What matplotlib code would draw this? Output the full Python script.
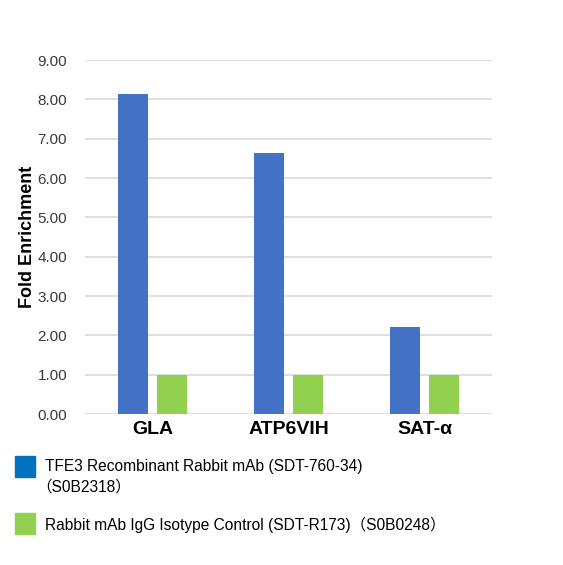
import matplotlib
matplotlib.use('Agg')
import numpy as np
import matplotlib.pyplot as plt
from matplotlib.patches import Rectangle

plt.rcParams['font.family'] = ['Liberation Sans', 'Noto Sans CJK SC', 'DejaVu Sans']

categories = ['GLA', 'ATP6VIH', 'SAT-α']
tfe3_vals = [8.13, 6.63, 2.20]
igg_vals = [1.00, 1.00, 1.00]
yticks = [0, 1, 2, 3, 4, 5, 6, 7, 8, 9]
legend_labels = ['TFE3 Recombinant Rabbit mAb (SDT-760-34)',
                 '（S0B2318）',
                 'Rabbit mAb IgG Isotype Control (SDT-R173)（S0B0248）']

bar_col = ['#4472C4', '#92D050']
leg_col = ['#0070C0', '#92D050']

W, H = 563, 565
fig = plt.figure(figsize=(W / 100, H / 100), dpi=100)
ax = fig.add_axes([84.5 / W, 1 - 414 / H, 408 / W, 354 / H])

x = np.arange(len(categories))
bw = 0.224
off = 0.143
ax.bar(x - off, tfe3_vals, width=bw, color=bar_col[0], zorder=3)
ax.bar(x + off, igg_vals, width=bw, color=bar_col[1], zorder=3)

ax.set_xlim(-0.5, 2.5)
ax.set_ylim(0, 9)
ax.set_yticks(yticks)
ax.set_yticklabels(['%.2f' % t for t in yticks], fontsize=11, color='#3a3a3a')
ax.set_xticks(x)
ax.set_xticklabels(categories, fontsize=14, fontweight='bold')
ax.tick_params(axis='both', length=0)
ax.tick_params(axis='y', pad=12.5)
ax.tick_params(axis='x', pad=5)
ax.grid(axis='y', color='#D9D9D9', linewidth=1.2, zorder=0)
for s in ax.spines.values():
    s.set_visible(False)
ax.set_ylabel('Fold Enrichment', fontsize=13, fontweight='bold')
ax.yaxis.set_label_coords(-49 / 408, 0.5)

# legend below the plot
sq = [(15, 456), (15, 513)]
for i in range(2):
    fig.patches.append(Rectangle((sq[i][0] / W, 1 - (sq[i][1] + 21) / H), 20 / W, 21 / H,
                                 transform=fig.transFigure, color=leg_col[i]))
fig.text(45 / W, 1 - 467 / H, legend_labels[0], fontsize=11.2, va='center', ha='left')
fig.text(36 / W, 1 - 487 / H, legend_labels[1], fontsize=11.2, va='center', ha='left')
fig.text(45 / W, 1 - 525 / H, legend_labels[2], fontsize=11.2, va='center', ha='left')

fig.savefig('out.png', dpi=100)
